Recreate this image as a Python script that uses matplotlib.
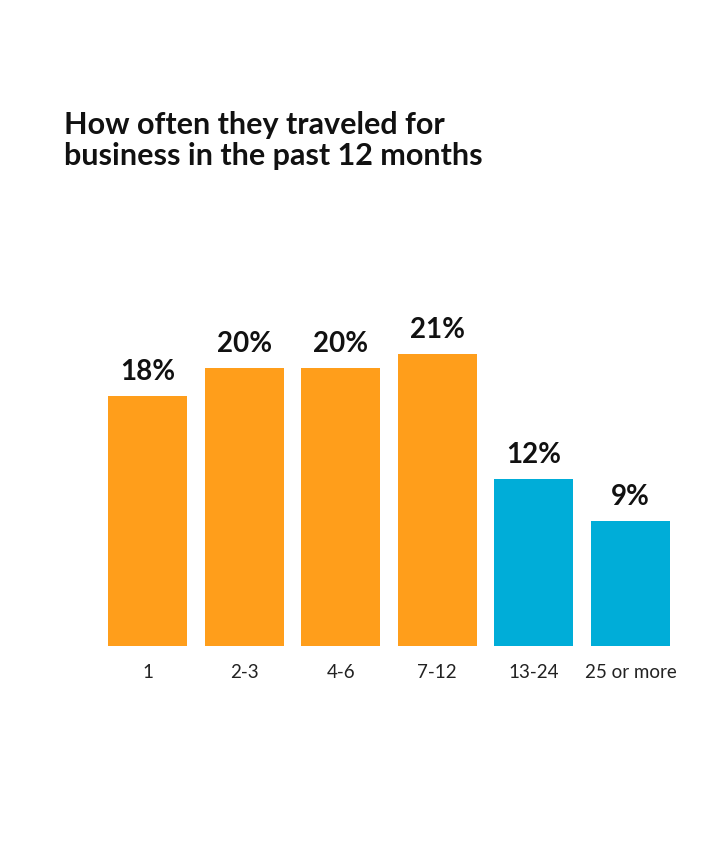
import matplotlib.pyplot as plt

categories = ["1", "2-3", "4-6", "7-12", "13-24", "25 or more"]
values = [18, 20, 20, 21, 12, 9]
colors = ["#FF9E1B"] * 4 + ["#00ADD8"] * 2

plt.rcParams['font.family'] = ['Lato', 'DejaVu Sans']

fig = plt.figure(figsize=(7.24, 8.41), dpi=100)
ax = fig.add_axes([108 / 724, 195 / 841, 562 / 724, 347.5 / 841])

x = range(len(categories))
bars = ax.bar(x, values, width=0.82, color=colors)
ax.set_xlim(-0.41, 5.41)
ax.set_ylim(0, 25)

for b, v in zip(bars, values):
    ax.annotate(f"{v}%", (b.get_x() + b.get_width() / 2, v),
                xytext=(0, 8), textcoords="offset points",
                ha="center", va="bottom", fontsize=20, fontweight="bold",
                color="#111111")

ax.set_xticks(list(x))
ax.set_xticklabels(categories, fontsize=13.5, color="#222222")
ax.tick_params(axis="x", length=0, pad=13)
ax.set_yticks([])
for s in ax.spines.values():
    s.set_visible(False)

fig.text(64 / 724, 1 - 165 / 841, "How often they traveled for\nbusiness in the past 12 months",
         fontsize=22, fontweight="bold", color="#111111", ha="left", va="baseline",
         linespacing=1.15)

fig.savefig("out.png", dpi=100, facecolor="white")
